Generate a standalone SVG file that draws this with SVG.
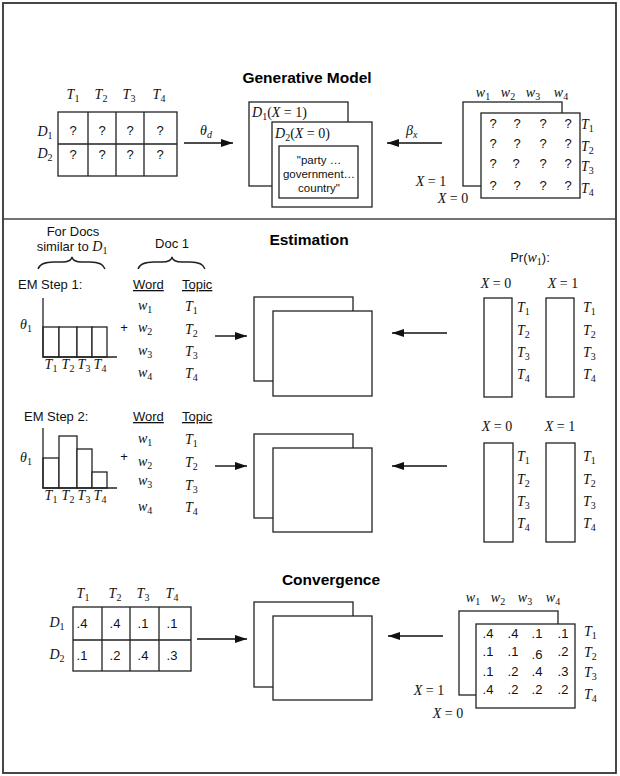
<svg xmlns="http://www.w3.org/2000/svg" width="620" height="776" viewBox="0 0 620 776">
<style>
.bx{fill:#fff;stroke:#222;stroke-width:1.3}
.ln{fill:none;stroke:#222;stroke-width:1.3}
.cn{fill:none;stroke:#111;stroke-width:1.4}
.m{font-family:"Liberation Serif","DejaVu Serif",serif;font-style:italic;font-size:14px;fill:#111}
.s{font-style:normal;font-size:10px}
.si{font-style:italic;font-size:10px}
.r{font-style:normal}
.t{font-family:"Liberation Sans",Arial,sans-serif;font-size:13px;fill:#111}
.q{font-family:"Liberation Sans",Arial,sans-serif;font-size:11.5px;fill:#111}
.h{font-family:"Liberation Sans",Arial,sans-serif;font-size:15.5px;font-weight:bold;fill:#000}
.u{text-decoration:underline}
.c{text-anchor:middle}
</style>
<defs>
<marker id="ah" markerUnits="userSpaceOnUse" markerWidth="13" markerHeight="9" refX="12" refY="4" orient="auto">
<path d="M0,0 L12,4 L0,8 z" fill="#111"/>
</marker>
</defs>
<rect x="0" y="0" width="620" height="776" fill="#fff"/>
<rect id="frame" x="3" y="3" width="613" height="770" fill="none" stroke="#333" stroke-width="1.8"/>
<line x1="3" y1="219" x2="616" y2="219" stroke="#444" stroke-width="1.5"/>

<!-- ===== Generative Model ===== -->
<text class="h c" x="307" y="83">Generative Model</text>

<g id="theta-table">
<rect class="bx" x="58" y="112" width="119" height="64"/>
<path class="ln" d="M58,144 H177 M88,112 V176 M116,112 V176 M144,112 V176"/>
<text class="m c" x="73" y="99">T<tspan class="s" dy="3">1</tspan></text>
<text class="m c" x="101" y="99">T<tspan class="s" dy="3">2</tspan></text>
<text class="m c" x="129" y="99">T<tspan class="s" dy="3">3</tspan></text>
<text class="m c" x="159" y="99">T<tspan class="s" dy="3">4</tspan></text>
<text class="m c" x="45" y="136">D<tspan class="s" dy="3">1</tspan></text>
<text class="m c" x="45" y="158">D<tspan class="s" dy="3">2</tspan></text>
<g class="t c">
<text x="73" y="135">?</text><text x="102" y="135">?</text><text x="130" y="135">?</text><text x="160" y="135">?</text>
<text x="73" y="159">?</text><text x="102" y="159">?</text><text x="130" y="159">?</text><text x="160" y="159">?</text>
</g>
</g>

<g id="docs-gen">
<rect class="bx" x="249" y="102" width="99" height="84"/>
<rect class="bx" x="272" y="122" width="100" height="85"/>
<rect class="bx" x="279" y="146" width="79" height="52"/>
<text class="m" x="252" y="117">D<tspan class="s" dy="3">1</tspan><tspan class="r" dy="-3">(</tspan>X<tspan class="r"> = 1)</tspan></text>
<text class="m" x="275" y="138">D<tspan class="s" dy="3">2</tspan><tspan class="r" dy="-3">(</tspan>X<tspan class="r"> = 0)</tspan></text>
<text class="q c" x="319" y="164">"party …</text>
<text class="q c" x="319" y="178">government…</text>
<text class="q c" x="319" y="192">country"</text>
</g>

<g id="beta-matrix">
<rect class="bx" x="463" y="102" width="99" height="84"/>
<rect class="bx" x="481" y="113" width="99" height="85"/>
<text class="m c" x="483" y="97">w<tspan class="s" dy="3">1</tspan></text>
<text class="m c" x="508" y="97">w<tspan class="s" dy="3">2</tspan></text>
<text class="m c" x="533" y="97">w<tspan class="s" dy="3">3</tspan></text>
<text class="m c" x="561" y="97">w<tspan class="s" dy="3">4</tspan></text>
<g class="t c">
<text x="493" y="128">?</text><text x="517" y="128">?</text><text x="543" y="128">?</text><text x="568" y="128">?</text>
<text x="493" y="148">?</text><text x="517" y="148">?</text><text x="543" y="148">?</text><text x="568" y="148">?</text>
<text x="493" y="168">?</text><text x="516" y="168">?</text><text x="543" y="168">?</text><text x="568" y="168">?</text>
<text x="493" y="190">?</text><text x="517" y="190">?</text><text x="543" y="190">?</text><text x="568" y="190">?</text>
</g>
<text class="m" x="581" y="129">T<tspan class="s" dy="3">1</tspan></text>
<text class="m" x="581" y="151">T<tspan class="s" dy="3">2</tspan></text>
<text class="m" x="581" y="171">T<tspan class="s" dy="3">3</tspan></text>
<text class="m" x="581" y="193">T<tspan class="s" dy="3">4</tspan></text>
<text class="m c" x="431" y="186">X<tspan class="r"> = 1</tspan></text>
<text class="m c" x="453" y="203">X<tspan class="r"> = 0</tspan></text>
</g>

<!-- ===== Estimation ===== -->
<text class="h c" x="309" y="245">Estimation</text>

<g id="labels-est">
<text class="t c" x="73" y="236">For Docs</text>
<text class="t c" x="72" y="251">similar to <tspan class="m">D</tspan><tspan class="m s" dy="3">1</tspan></text>
<text class="t c" x="172" y="248">Doc 1</text>
<path class="ln" stroke-width="2.4" d="M38,269 Q40,262 54,262 L62,262 Q71,262 72,257 Q73,262 82,262 L90,262 Q103,262 105,269"/>
<path class="ln" stroke-width="2.4" d="M138,269 Q140,262 154,262 L162,262 Q171,262 172,257 Q173,262 182,262 L190,262 Q203,262 205,269"/>
</g>

<g id="em-step1">
<text class="t" x="18" y="289">EM Step 1:</text>
<rect class="bx" x="43" y="327" width="16" height="30"/>
<rect class="bx" x="59" y="327" width="18" height="30"/>
<rect class="bx" x="77" y="327" width="15" height="30"/>
<rect class="bx" x="92" y="327" width="15" height="30"/>
<path class="ln" d="M43,298 V357 H117"/>
<text class="m" x="20" y="329">θ<tspan class="s" dy="3">1</tspan></text>
<text class="m c" x="51" y="369">T<tspan class="s" dy="3">1</tspan></text>
<text class="m c" x="68" y="369">T<tspan class="s" dy="3">2</tspan></text>
<text class="m c" x="84" y="369">T<tspan class="s" dy="3">3</tspan></text>
<text class="m c" x="100" y="369">T<tspan class="s" dy="3">4</tspan></text>
<text class="t c" x="124" y="332">+</text>
<text class="t u" x="133" y="289">Word</text>
<text class="t u" x="182" y="289">Topic</text>
<text class="m" x="138" y="310">w<tspan class="s" dy="3">1</tspan></text>
<text class="m" x="138" y="332">w<tspan class="s" dy="3">2</tspan></text>
<text class="m" x="138" y="355">w<tspan class="s" dy="3">3</tspan></text>
<text class="m" x="138" y="377">w<tspan class="s" dy="3">4</tspan></text>
<text class="m" x="185" y="311">T<tspan class="s" dy="3">1</tspan></text>
<text class="m" x="185" y="334">T<tspan class="s" dy="3">2</tspan></text>
<text class="m" x="185" y="356">T<tspan class="s" dy="3">3</tspan></text>
<text class="m" x="185" y="378">T<tspan class="s" dy="3">4</tspan></text>
</g>

<g id="docs-est1">
<rect class="bx" x="254" y="297" width="99" height="84"/>
<rect class="bx" x="273" y="311" width="99" height="85"/>
</g>

<g id="pr-est1">
<text class="t c" x="530" y="262">Pr(<tspan class="m">w</tspan><tspan class="m s" dy="3">1</tspan><tspan dy="-3">):</tspan></text>
<text class="m c" x="496" y="288">X<tspan class="r"> = 0</tspan></text>
<text class="m c" x="563" y="288">X<tspan class="r"> = 1</tspan></text>
<rect class="bx" x="484" y="298" width="28" height="99"/>
<rect class="bx" x="546" y="298" width="28" height="99"/>
<text class="m" x="517" y="312">T<tspan class="s" dy="3">1</tspan></text>
<text class="m" x="517" y="335">T<tspan class="s" dy="3">2</tspan></text>
<text class="m" x="517" y="357">T<tspan class="s" dy="3">3</tspan></text>
<text class="m" x="517" y="379">T<tspan class="s" dy="3">4</tspan></text>
<text class="m" x="583" y="312">T<tspan class="s" dy="3">1</tspan></text>
<text class="m" x="583" y="335">T<tspan class="s" dy="3">2</tspan></text>
<text class="m" x="583" y="357">T<tspan class="s" dy="3">3</tspan></text>
<text class="m" x="583" y="379">T<tspan class="s" dy="3">4</tspan></text>
</g>

<g id="em-step2">
<text class="t" x="24" y="421">EM Step 2:</text>
<rect class="bx" x="43" y="458" width="16" height="30"/>
<rect class="bx" x="59" y="436" width="18" height="52"/>
<rect class="bx" x="77" y="449" width="15" height="39"/>
<rect class="bx" x="92" y="472" width="15" height="16"/>
<path class="ln" d="M43,428 V488 H117"/>
<text class="m" x="20" y="462">θ<tspan class="s" dy="3">1</tspan></text>
<text class="m c" x="51" y="500">T<tspan class="s" dy="3">1</tspan></text>
<text class="m c" x="68" y="500">T<tspan class="s" dy="3">2</tspan></text>
<text class="m c" x="84" y="500">T<tspan class="s" dy="3">3</tspan></text>
<text class="m c" x="100" y="500">T<tspan class="s" dy="3">4</tspan></text>
<text class="t c" x="124" y="461">+</text>
<text class="t u" x="133" y="421">Word</text>
<text class="t u" x="182" y="421">Topic</text>
<text class="m" x="138" y="443">w<tspan class="s" dy="3">1</tspan></text>
<text class="m" x="138" y="466">w<tspan class="s" dy="3">2</tspan></text>
<text class="m" x="138" y="485">w<tspan class="s" dy="3">3</tspan></text>
<text class="m" x="138" y="511">w<tspan class="s" dy="3">4</tspan></text>
<text class="m" x="185" y="444">T<tspan class="s" dy="3">1</tspan></text>
<text class="m" x="185" y="467">T<tspan class="s" dy="3">2</tspan></text>
<text class="m" x="185" y="490">T<tspan class="s" dy="3">3</tspan></text>
<text class="m" x="185" y="512">T<tspan class="s" dy="3">4</tspan></text>
</g>

<g id="docs-est2">
<rect class="bx" x="254" y="434" width="99" height="84"/>
<rect class="bx" x="273" y="448" width="99" height="84"/>
</g>

<g id="pr-est2">
<text class="m c" x="497" y="431">X<tspan class="r"> = 0</tspan></text>
<text class="m c" x="560" y="431">X<tspan class="r"> = 1</tspan></text>
<rect class="bx" x="484" y="443" width="29" height="99"/>
<rect class="bx" x="546" y="443" width="29" height="99"/>
<text class="m" x="517" y="461">T<tspan class="s" dy="3">1</tspan></text>
<text class="m" x="517" y="484">T<tspan class="s" dy="3">2</tspan></text>
<text class="m" x="517" y="506">T<tspan class="s" dy="3">3</tspan></text>
<text class="m" x="517" y="528">T<tspan class="s" dy="3">4</tspan></text>
<text class="m" x="583" y="461">T<tspan class="s" dy="3">1</tspan></text>
<text class="m" x="583" y="484">T<tspan class="s" dy="3">2</tspan></text>
<text class="m" x="583" y="506">T<tspan class="s" dy="3">3</tspan></text>
<text class="m" x="583" y="528">T<tspan class="s" dy="3">4</tspan></text>
</g>

<!-- ===== Convergence ===== -->
<text class="h c" x="331" y="585">Convergence</text>

<g id="theta-conv">
<rect class="bx" x="73" y="607" width="118" height="64"/>
<path class="ln" d="M73,640 H191 M102,607 V671 M130,607 V671 M159,607 V671"/>
<text class="m c" x="83" y="598">T<tspan class="s" dy="3">1</tspan></text>
<text class="m c" x="115" y="598">T<tspan class="s" dy="3">2</tspan></text>
<text class="m c" x="143" y="598">T<tspan class="s" dy="3">3</tspan></text>
<text class="m c" x="172" y="598">T<tspan class="s" dy="3">4</tspan></text>
<text class="m c" x="57" y="627">D<tspan class="s" dy="3">1</tspan></text>
<text class="m c" x="57" y="659">D<tspan class="s" dy="3">2</tspan></text>
<g class="t c">
<text x="82" y="628">.4</text><text x="115" y="628">.4</text><text x="143" y="628">.1</text><text x="172" y="628">.1</text>
<text x="82" y="660">.1</text><text x="115" y="660">.2</text><text x="143" y="660">.4</text><text x="172" y="660">.3</text>
</g>
</g>

<g id="docs-conv">
<rect class="bx" x="254" y="602" width="99" height="85"/>
<rect class="bx" x="273" y="616" width="99" height="84"/>
</g>

<g id="beta-conv">
<rect class="bx" x="459" y="611" width="99" height="84"/>
<rect class="bx" x="476" y="624" width="99" height="84"/>
<text class="m c" x="473" y="602">w<tspan class="s" dy="3">1</tspan></text>
<text class="m c" x="498" y="602">w<tspan class="s" dy="3">2</tspan></text>
<text class="m c" x="525" y="602">w<tspan class="s" dy="3">3</tspan></text>
<text class="m c" x="553" y="602">w<tspan class="s" dy="3">4</tspan></text>
<g class="t c">
<text x="488" y="638">.4</text><text x="513" y="638">.4</text><text x="537" y="638">.1</text><text x="563" y="638">.1</text>
<text x="488" y="656">.1</text><text x="513" y="656">.1</text><text x="537" y="659">.6</text><text x="563" y="656">.2</text>
<text x="488" y="676">.1</text><text x="513" y="676">.2</text><text x="537" y="676">.4</text><text x="563" y="676">.3</text>
<text x="488" y="694">.4</text><text x="513" y="694">.2</text><text x="537" y="694">.2</text><text x="563" y="694">.2</text>
</g>
<text class="m" x="584" y="636">T<tspan class="s" dy="3">1</tspan></text>
<text class="m" x="584" y="657">T<tspan class="s" dy="3">2</tspan></text>
<text class="m" x="584" y="677">T<tspan class="s" dy="3">3</tspan></text>
<text class="m" x="584" y="699">T<tspan class="s" dy="3">4</tspan></text>
<text class="m c" x="429" y="695">X<tspan class="r"> = 1</tspan></text>
<text class="m c" x="448" y="718">X<tspan class="r"> = 0</tspan></text>
</g>

<!-- ===== Connectors ===== -->
<g id="connectors">
<line class="cn" x1="184" y1="143" x2="233" y2="143" marker-end="url(#ah)"/>
<text class="m" x="200" y="135">θ<tspan class="si" dy="3">d</tspan></text>
<line class="cn" x1="442" y1="143" x2="387" y2="143" marker-end="url(#ah)"/>
<text class="m" x="406" y="135">β<tspan class="si" dy="3">x</tspan></text>
<line class="cn" x1="215" y1="336" x2="247" y2="336" marker-end="url(#ah)"/>
<line class="cn" x1="447" y1="333" x2="392" y2="333" marker-end="url(#ah)"/>
<line class="cn" x1="215" y1="466" x2="247" y2="466" marker-end="url(#ah)"/>
<line class="cn" x1="447" y1="466" x2="392" y2="466" marker-end="url(#ah)"/>
<line class="cn" x1="197" y1="639" x2="247" y2="639" marker-end="url(#ah)"/>
<line class="cn" x1="443" y1="636" x2="388" y2="636" marker-end="url(#ah)"/>
</g>
</svg>
